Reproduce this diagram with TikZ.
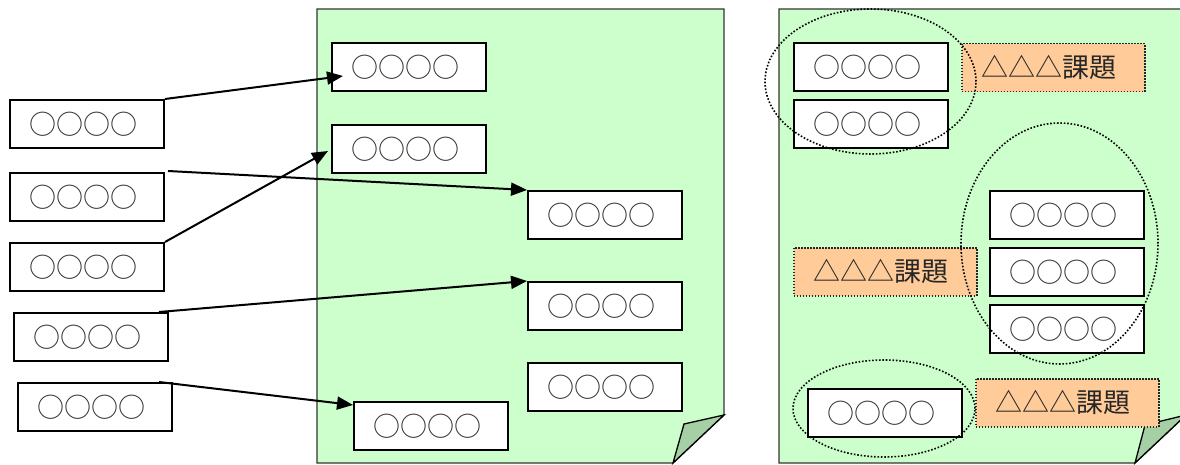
\documentclass[tikz,border=0pt]{standalone}
\usepackage{fontspec}
\newfontfamily\jp{Noto Sans CJK JP}
\usetikzlibrary{arrows.meta,calc,shapes.geometric}
\definecolor{pagegreen}{HTML}{CCFFCC}
\definecolor{foldgreen}{RGB}{165,207,165}
\definecolor{issueorange}{HTML}{FFCC99}
\tikzset{
  page/.style={fill=pagegreen,draw=black!80,line width=1.3pt,line join=miter},
  fold/.style={fill=foldgreen,draw=black,line width=1.3pt,line join=miter},
  item/.style={draw=black,fill=white,line width=2pt,anchor=north west,
    minimum height=48pt,inner xsep=19pt,inner ysep=0pt,text width=116pt,
    align=left,text=black!80,font=\jp\fontsize{27}{30}\selectfont},
  issue/.style={draw=black!85,fill=issueorange,line width=1.5pt,
    dash pattern=on 1.5pt off 1.5pt,anchor=north west,
    minimum height=48pt,inner xsep=20pt,inner ysep=0pt,text width=143pt,
    align=left,text=black!85,font=\jp\fontsize{27}{30}\selectfont},
  group/.style={ellipse,draw=black,line width=1.6pt,
    dash pattern=on 1.6pt off 1.8pt,inner sep=0pt},
  link/.style={line width=2pt,-{Triangle[length=16pt,width=13pt]}},
}
\begin{document}
\begin{tikzpicture}[x=1pt,y=-1pt]
\useasboundingbox (0,0) rectangle (1180,465);
\clip (0,0) rectangle (1180,465);

% left sheet with folded corner
\draw[page] (317,9) -- (724,9) -- (724,415) -- (673,463) -- (317,463) -- cycle;
\draw[fold] (724,415) -- (684,424) -- (673,463) -- cycle;

% right sheet with folded corner (runs past the edge)
\draw[page] (779,9) -- (1186,9) -- (1186,415) -- (1135,463) -- (779,463) -- cycle;
\draw[fold] (1186,415) -- (1145,425) -- (1135,463) -- cycle;

% loose items on the left
\node[item] (L1) at (9,99) {○○○○};
\node[item] (L2) at (9,172) {○○○○};
\node[item] (L3) at (9,242) {○○○○};
\node[item] (L4) at (13,312) {○○○○};
\node[item] (L5) at (17,382) {○○○○};

% items placed on the left sheet
\node[item] (P1) at (331,42) {○○○○};
\node[item] (P2) at (331,124) {○○○○};
\node[item] (P3) at (527,190) {○○○○};
\node[item] (P4) at (527,281) {○○○○};
\node[item] (P5) at (527,362) {○○○○};
\node[item] (P6) at (353,401) {○○○○};

% placement arrows
\draw[link] (L1.north east) -- ($(P1.west)+(12,9)$);
\draw[link] (L3.north east) -- ($(P2.west)+(-3,2)$);
\draw[link] ($(L2.north east)+(3,-1)$) -- (P3.north west);
\draw[link] ($(L4.north east)+(-10,0)$) -- (P4.north west);
\draw[link] ($(L5.north east)+(-14,0)$) -- ($(P6.north west)+(0,4)$);

% grouped items on the right sheet
\node[item] (R1) at (793,42) {○○○○};
\node[item] (R2) at (793,99) {○○○○};
\node[item] (R3) at (989,190) {○○○○};
\node[item] (R4) at (989,247) {○○○○};
\node[item] (R5) at (989,304) {○○○○};
\node[item] (R6) at (807,388) {○○○○};

% issue labels
\node[issue] (T1) at (961,43) {△△△課題};
\node[issue] (T2) at (793,247) {△△△課題};
\node[issue] (T3) at (975,378) {△△△課題};

% dotted groupings
\node[group,minimum width=211pt,minimum height=145pt] (G1) at (870.5,81.5) {};
\node[group,minimum width=197pt,minimum height=241pt] (G2) at (1059.5,243.5) {};
\node[group,minimum width=182pt,minimum height=97pt] (G3) at (884,408.5) {};
\end{tikzpicture}
\end{document}
